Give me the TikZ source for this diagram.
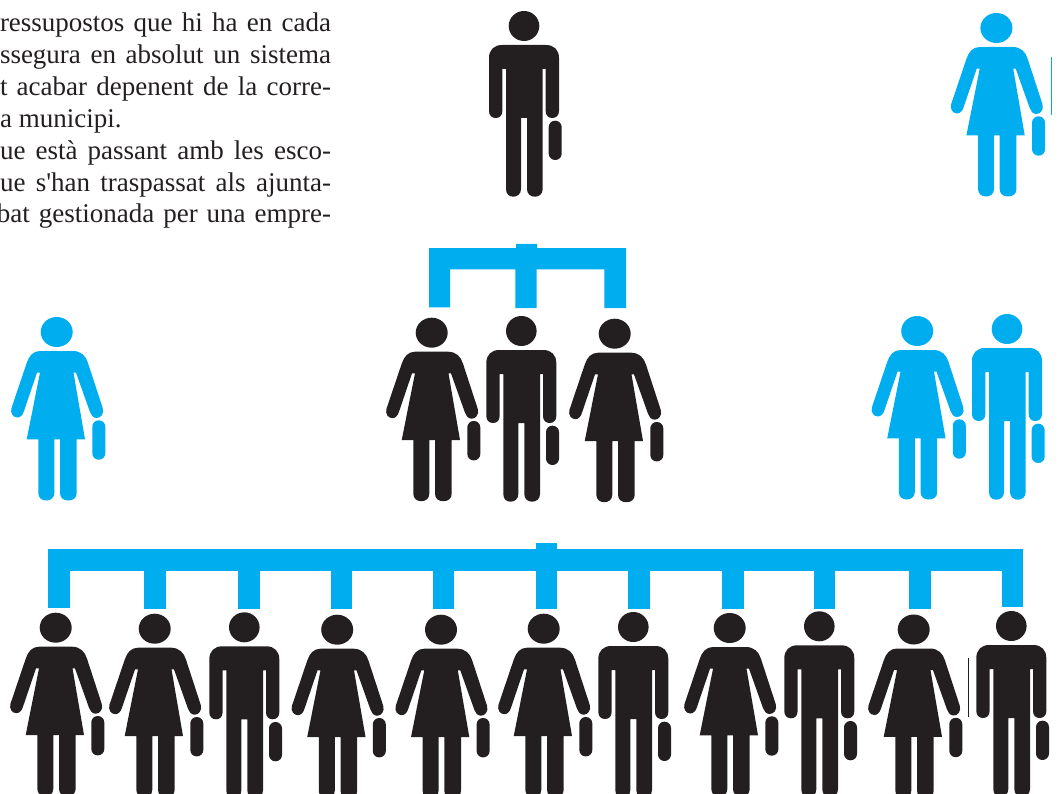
\documentclass[tikz,border=0pt]{standalone}
\usepackage{fontspec}
\setmainfont{Liberation Serif}
\definecolor{ink}{HTML}{231F20}
\definecolor{sky}{HTML}{00AEEF}
\tikzset{
  x=1pt,y=-1pt,
  textline/.style={anchor=base east,inner sep=0pt,outer sep=0pt,text=ink,font=\fontsize{27}{32}\selectfont},
  man/.pic={
    \fill[fill=#1] (0,0) ellipse [x radius=15.3,y radius=15];
    \fill[fill=#1] (-22,19) -- (22,19) .. controls (30,19) and (35,24) .. (35,32)
      -- (35,85) .. controls (35,89.5) and (32,92) .. (28.3,92) .. controls (24.5,92) and (21.7,89.5) .. (21.7,85)
      -- (21.7,43) -- (18.7,43) -- (18.7,163) .. controls (18.7,168) and (15,170.7) .. (10.8,170.7)
      .. controls (6.5,170.7) and (3,168) .. (3,163) -- (3,92) -- (-3,92) -- (-3,163)
      .. controls (-3,168) and (-6.5,170.7) .. (-10.8,170.7) .. controls (-15,170.7) and (-18,168) .. (-18,163)
      -- (-18,43) -- (-21.7,43) -- (-21.7,85) .. controls (-21.7,89.5) and (-24.5,92) .. (-28.3,92)
      .. controls (-32,92) and (-35,89.5) .. (-35,85) -- (-35,32) .. controls (-35,24) and (-30,19) .. (-22,19) -- cycle;
    \fill[fill=#1,rounded corners=6.4] (24.7,94.7) rectangle (37.7,134);
  },
  woman/.pic={
    \fill[fill=#1] (-0.3,0) ellipse [x radius=16,y radius=15];
    \fill[fill=#1] (-17,19) -- (16,19) .. controls (24,19) and (29,24) .. (31,31)
      -- (45.7,76) .. controls (47.5,82) and (43.5,86) .. (39.7,86) .. controls (36,86) and (34,83) .. (33,80)
      -- (19,40.7) -- (16.5,40.7) -- (28,107.3) -- (19.7,107.3) -- (19.7,161)
      .. controls (19.7,166) and (16,168.5) .. (11.3,168.5) .. controls (6.5,168.5) and (3,166) .. (3,161)
      -- (3,107.3) -- (-2.7,107.3) -- (-2.7,161) .. controls (-2.7,166) and (-6.5,168.5) .. (-10.7,168.5)
      .. controls (-15,168.5) and (-18.7,166) .. (-18.7,161) -- (-18.7,107.3) -- (-30.3,107.3)
      -- (-17,40.7) -- (-20,40.7) -- (-33,79) .. controls (-34,83) and (-37,85.5) .. (-39.5,85.5)
      .. controls (-44,85.5) and (-47,81) .. (-45.5,76) -- (-30.3,31) .. controls (-28,24) and (-24,19) .. (-17,19) -- cycle;
    \fill[fill=#1,rounded corners=6.4] (35.3,88.3) rectangle (48.3,127.7);
  }
}
\begin{document}
\begin{tikzpicture}
\useasboundingbox (0,0) rectangle (1059,794);
\clip (0,0) rectangle (1059,794);
% column of text
\node[textline] (l1) at (331,31.7) {\makebox[331pt][s]{ressupostos que hi ha en cada}};
\node[textline] (l2) at (331,64) {\makebox[331pt][s]{ssegura en absolut un sistema}};
\node[textline] (l3) at (331,95.7) {\makebox[331pt][s]{t acabar depenent de la corre-}};
\node[anchor=base west,inner sep=0pt,text=ink,font=\fontsize{27}{32}\selectfont] (l4) at (0,127.7) {a municipi.};
\node[textline] (l5) at (331,160) {\makebox[331pt][s]{ue està passant amb les esco-}};
\node[textline] (l6) at (331,191.7) {\makebox[331pt][s]{ue s\textquotesingle han traspassat als ajunta-}};
\node[textline] (l7) at (331,222.7) {\makebox[334pt][s]{bat gestionada per una empre-}};
% upper bracket
\fill[sky] (429,248) -- (516,248) -- (516,244) -- (537,244) -- (537,248) -- (626,248) -- (626,308)
  -- (604.3,308) -- (604.3,269.3) -- (536.7,269.3) -- (536.7,308) -- (515.3,308) -- (515.3,269.3)
  -- (450,269.3) -- (450,307.3) -- (429,307.3) -- cycle;
% lower bracket
\fill[sky] (48.3,548.8) rectangle (1023,570.5);
\fill[sky] (535.7,543.3) rectangle (557,549);
\foreach \a/\e in {48.3/607.7,144.3/609,238.3/608.7,331/609,433/609.3,535.7/609,628.3/609,722.3/609,814/609,909.3/609,1001.7/607}
  \fill[sky] (\a,570) rectangle ({\a+21.3},\e);
% thin marks
\fill[sky] (1050.5,57) rectangle (1051.5,115);
\fill[ink] (968,658) rectangle (968.8,716.7);
% figures
\pic at (524,26) {man=ink};
\pic at (996.7,28) {woman=sky};
\pic at (57,332) {woman=sky};
\pic at (432,332.7) {woman=ink};
\pic at (521.3,331) {man=ink};
\pic at (615,333.7) {woman=ink};
\pic at (917.5,331) {woman=sky};
\pic at (1007,329) {man=sky};
\pic at (56,627.7) {woman=ink};
\pic at (155,628.7) {woman=ink};
\pic at (244.3,627.3) {man=ink};
\pic at (337.5,629.7) {woman=ink};
\pic at (441.3,629.7) {woman=ink};
\pic at (544,628.7) {woman=ink};
\pic at (633.3,627) {man=ink};
\pic at (730,628) {woman=ink};
\pic at (819.3,626.3) {man=ink};
\pic at (914,629.5) {woman=ink};
\pic at (1011.3,626) {man=ink};
\end{tikzpicture}
\end{document}
